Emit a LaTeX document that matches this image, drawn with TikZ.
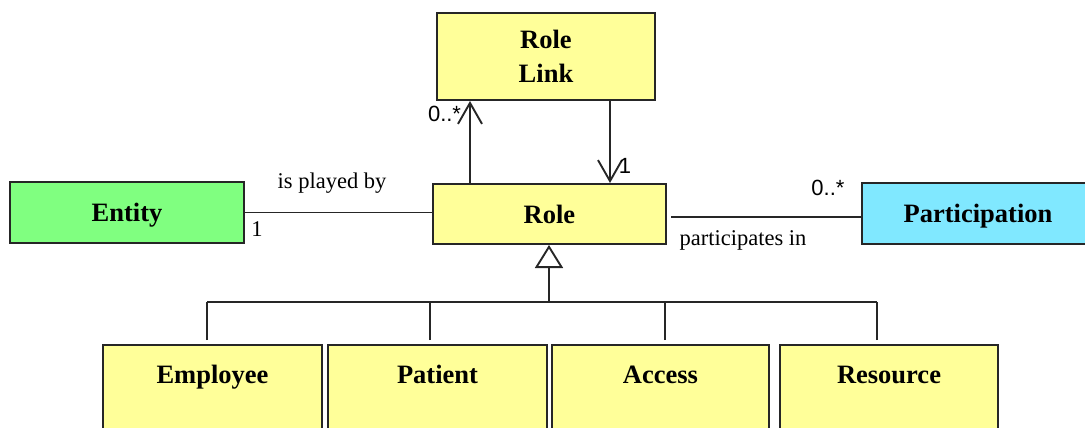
\documentclass[tikz,border=0pt]{standalone}
\usepackage{fontspec}
\setmainfont{Liberation Serif}
\newfontfamily\labelsans{Liberation Sans}
\usetikzlibrary{arrows.meta,calc}
\definecolor{classyellow}{HTML}{FFFF99}
\definecolor{entitygreen}{HTML}{80FF80}
\definecolor{partcyan}{HTML}{80E8FF}
\begin{document}
\begin{tikzpicture}[x=1pt,y=-1pt,
  line width=1.9pt,
  classbox/.style={draw=black!85, line width=2pt, inner sep=0pt,
    font=\fontsize{26.5}{34}\selectfont\bfseries, align=center},
  oneline/.style={classbox, text height=18pt, text depth=0pt},
  subclass/.style={classbox, fill=classyellow, anchor=north west,
    text height=38pt, text depth=80pt},
  assoc/.style={draw=black!85, line width=1.9pt},
  navarrow/.style={assoc, -{Straight Barb[length=21pt,width=24pt]}},
  genarrow/.style={assoc, -{Triangle[open,length=23pt,width=28pt]}},
  rolename/.style={font=\fontsize{22.5}{26}\selectfont, inner sep=0pt},
  mult/.style={font=\labelsans\fontsize{22}{26}\selectfont, inner sep=0pt}]

\clip (0,0) rectangle (1085,428);
\useasboundingbox (0,0) rectangle (1085,428);

% classes
\node[classbox, fill=classyellow, minimum width=218pt, minimum height=87pt]
  (rolelink) at (546,56.5) {Role\\Link};
\node[oneline, fill=classyellow, minimum width=233pt, minimum height=60pt]
  (role) at (549.5,214) {Role};
\node[oneline, fill=entitygreen, minimum width=234pt, minimum height=61pt]
  (entity) at (127,212.5) {Entity};
\node[oneline, fill=partcyan, minimum width=232pt, minimum height=61pt]
  (part) at (978,213.5) {Participation};

\node[subclass, minimum width=219pt] (employee) at (102,344) {Employee};
\node[subclass, minimum width=219pt] (patient)  at (327,344) {Patient};
\node[subclass, minimum width=217pt] (access)   at (551,344) {Access};
\node[subclass, minimum width=218pt] (resource) at (779,344) {Resource};

% role link associations
\coordinate (lx) at (470,0);
\coordinate (rx) at (610,0);
\draw[navarrow] (role.north -| lx) -- (rolelink.south -| lx);
\draw[navarrow] (rolelink.south -| rx) -- (role.north -| rx);
\node[mult, anchor=east] (linkmany) at (462,114) {0..*};
\node[mult] (linkone) at (625,166) {1};

% entity -- role
\draw[assoc] (entity.east) -- (role.west |- entity.east);
\node[rolename] (playedby) at (332,183) {is played by};
\node[rolename] (entityone) at (257,229) {1};

% role -- participation
\coordinate (py) at (0,217);
\draw[assoc] ($(role.east |- py)+(4,0)$) -- (part.west |- py);
\node[mult] (partmany) at (828,188) {0..*};
\node[rolename] (participates) at (743,240) {participates in};

% generalization tree
\coordinate (hub) at (549,302);
\coordinate (ga) at (207,302);
\coordinate (gb) at (430,302);
\coordinate (gc) at (665,302);
\coordinate (gd) at (877,302);
\draw[genarrow] (hub) -- (role.south -| hub);
\draw[assoc] (ga) -- (gd);
\draw[assoc, shorten <=4pt] (employee.north -| ga) -- (ga);
\draw[assoc, shorten <=4pt] (patient.north -| gb) -- (gb);
\draw[assoc, shorten <=4pt] (access.north -| gc) -- (gc);
\draw[assoc, shorten <=4pt] (resource.north -| gd) -- (gd);
\end{tikzpicture}
\end{document}
